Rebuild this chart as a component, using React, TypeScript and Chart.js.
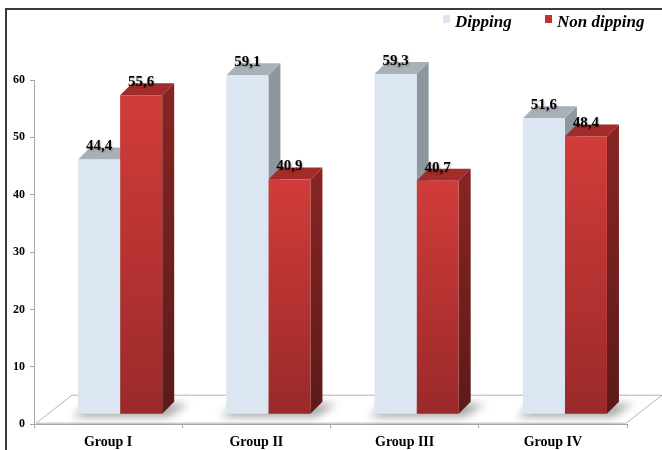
import React, { useEffect, useRef } from "react";
import { Chart, registerables } from "chart.js";

Chart.register(...registerables);

const categories = ["Group I", "Group II", "Group III", "Group IV"];
const dipping = [44.4, 59.1, 59.3, 51.6];
const nonDipping = [55.6, 40.9, 40.7, 48.4];
const seriesNames = ["Dipping", "Non dipping"];
const yMin = 0;
const yMax = 60;
const yStep = 10;

const SERIF = "'Liberation Serif', 'Times New Roman', serif";
const DX = 12;
const DY = -12;
const SHIFT_X = 12;
const SHIFT_Y = -10;

const fmt = (v: number) => v.toFixed(1).replace(".", ",");

function poly(ctx: CanvasRenderingContext2D, pts: number[][], fill: any) {
  ctx.beginPath();
  ctx.moveTo(pts[0][0], pts[0][1]);
  for (let i = 1; i < pts.length; i++) ctx.lineTo(pts[i][0], pts[i][1]);
  ctx.closePath();
  ctx.fillStyle = fill;
  ctx.fill();
}

const threeD = {
  id: "threeD",
  beforeDatasetsDraw(chart: any) {
    const ctx: CanvasRenderingContext2D = chart.ctx;
    const a = chart.chartArea;
    // floor
    const fl = a.left + 2;
    const fr = a.right - 1;
    const fb = a.bottom - 1;
    const fdx = 36;
    const fdy = -28;
    ctx.save();
    ctx.beginPath();
    ctx.moveTo(fl, fb);
    ctx.lineTo(fr, fb);
    ctx.lineTo(fr + fdx, fb + fdy);
    ctx.lineTo(fl + fdx, fb + fdy);
    ctx.closePath();
    ctx.fillStyle = "#ffffff";
    ctx.fill();
    ctx.strokeStyle = "#b4b4b4";
    ctx.lineWidth = 1;
    ctx.stroke();
    ctx.restore();

    ctx.save();
    ctx.translate(SHIFT_X, SHIFT_Y);
    const n = chart.data.labels.length;
    const metas = [chart.getDatasetMeta(0), chart.getDatasetMeta(1)];
    // shadows
    for (let i = 0; i < n; i++) {
      const e0 = metas[0].data[i].getProps(["x", "base", "width"], true);
      const e1 = metas[1].data[i].getProps(["x", "base", "width"], true);
      const l = e0.x - e0.width / 2;
      const r = e1.x + e1.width / 2;
      const b = e0.base;
      ctx.save();
      ctx.filter = "blur(4px)";
      poly(ctx, [[l - 6, b + 3], [r + 6, b + 3], [r + DX + 14, b + DY + 2], [l + DX, b + DY + 2]], "rgba(0,0,0,0.35)");
      ctx.restore();
    }
    for (let i = 0; i < n; i++) {
      for (let d = 0; d < 2; d++) {
        const el = metas[d].data[i];
        const { x, y, base, width } = el.getProps(["x", "y", "base", "width"], true);
        const l = x - width / 2;
        const r = x + width / 2;
        let side: any;
        let top: string;
        if (d === 0) {
          side = "#8e969e";
          top = "#a9b0b8";
        } else {
          const g = ctx.createLinearGradient(0, y, 0, base);
          g.addColorStop(0, "#852523");
          g.addColorStop(1, "#5c1a19");
          side = g;
          top = "#a32b29";
        }
        poly(ctx, [[r, y], [r + DX, y + DY], [r + DX, base + DY], [r, base]], side);
        poly(ctx, [[l, y], [r, y], [r + DX, y + DY], [l + DX, y + DY]], top);
      }
    }
  },
  afterDatasetsDraw(chart: any) {
    const ctx: CanvasRenderingContext2D = chart.ctx;
    ctx.font = `bold 15px ${SERIF}`;
    ctx.textAlign = "center";
    ctx.textBaseline = "middle";
    ctx.fillStyle = "#000";
    chart.data.datasets.forEach((ds: any, d: number) => {
      const meta = chart.getDatasetMeta(d);
      meta.data.forEach((el: any, i: number) => {
        const { x, y } = el.getProps(["x", "y"], true);
        ctx.save();
        ctx.shadowColor = "rgba(0,0,0,0.25)";
        ctx.shadowBlur = 2;
        ctx.shadowOffsetX = 1;
        ctx.shadowOffsetY = 1;
        ctx.fillText(fmt(ds.data[i]), x, y - 13);
        ctx.restore();
      });
    });
    ctx.restore();
  },
  afterDraw(chart: any) {
    const ctx: CanvasRenderingContext2D = chart.ctx;
    ctx.save();
    // frame
    ctx.strokeStyle = "#3a3a3a";
    ctx.lineWidth = 2;
    ctx.strokeRect(6, 9, 700, 500);
    // legend
    const items = [
      { name: seriesNames[0], color: "#dce6f2", box: 443, text: 455 },
      { name: seriesNames[1], color: "#c0312f", box: 545, text: 557 },
    ];
    ctx.font = `italic bold 17px ${SERIF}`;
    ctx.textAlign = "left";
    ctx.textBaseline = "alphabetic";
    items.forEach((it) => {
      ctx.fillStyle = it.color;
      ctx.fillRect(it.box, 15, 7, 8);
      ctx.fillStyle = "#000";
      ctx.fillText(it.name, it.text, 27);
    });
    ctx.restore();
  },
};

export default function App() {
  const ref = useRef<HTMLCanvasElement>(null);
  useEffect(() => {
    if (!ref.current) return;
    const redFront = (c: any) => {
      const chart = c.chart;
      const a = chart.chartArea;
      if (!a) return "#c0312f";
      const ys = chart.scales.y;
      const top = ys.getPixelForValue(c.raw ?? 0) + SHIFT_Y;
      const base = ys.getPixelForValue(0) + SHIFT_Y;
      const g = chart.ctx.createLinearGradient(0, top, 0, base);
      g.addColorStop(0, "#d33d3a");
      g.addColorStop(1, "#9c2a2a");
      return g;
    };
    const chart = new Chart(ref.current, {
      type: "bar",
      data: {
        labels: categories,
        datasets: [
          {
            label: seriesNames[0],
            data: dipping,
            backgroundColor: "#dce6f2",
            borderWidth: 0,
            clip: false,
          } as any,
          {
            label: seriesNames[1],
            data: nonDipping,
            backgroundColor: redFront,
            borderWidth: 0,
            clip: false,
          } as any,
        ],
      },
      options: {
        responsive: false,
        animation: false,
        events: [],
        layout: { padding: { top: 80, left: 8, right: 35, bottom: -7 } },
        datasets: { bar: { categoryPercentage: 0.5676, barPercentage: 1 } },
        plugins: { legend: { display: false }, tooltip: { enabled: false } },
        scales: {
          x: {
            grid: { drawOnChartArea: false, tickLength: 4, color: "#a6a6a6" },
            border: { color: "#a6a6a6" },
            ticks: { color: "#000", font: { family: SERIF, size: 14, weight: "bold" }, padding: 6 },
          },
          y: {
            min: yMin,
            max: yMax,
            grid: { drawOnChartArea: false, tickLength: 4, color: "#a6a6a6" },
            border: { color: "#a6a6a6" },
            ticks: { stepSize: yStep, color: "#000", font: { family: SERIF, size: 12, weight: "bold" }, padding: 5 },
          },
        },
      },
      plugins: [threeD],
    });
    return () => chart.destroy();
  }, []);
  return (
    <div style={{ position: "fixed", left: 0, top: 0, width: 662, height: 450, background: "#fff" }}>
      <canvas ref={ref} width={662} height={450} style={{ display: "block" }} />
    </div>
  );
}
